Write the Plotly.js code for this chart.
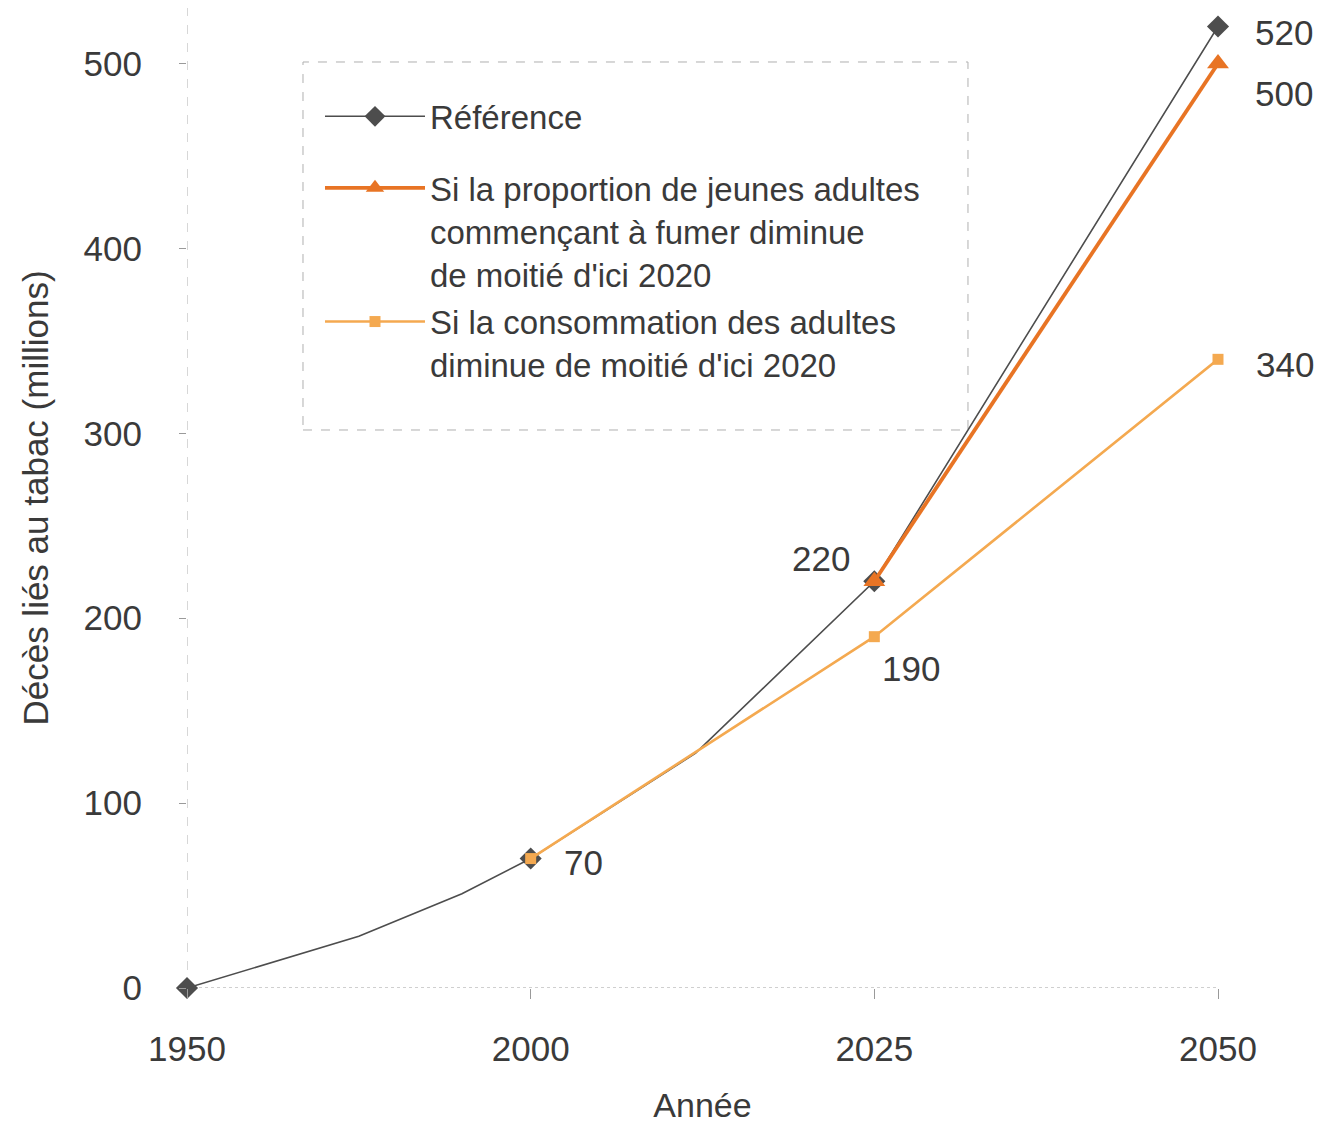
<!DOCTYPE html>
<html>
<head>
<meta charset="utf-8">
<script src="https://cdn.plot.ly/plotly-3.0.1.min.js"></script>
<style>html,body{margin:0;padding:0;background:#fff;}#chart{width:1320px;height:1125px;}</style>
</head>
<body>
<div id="chart"></div>
<script>
// Axis breakpoints (years shown as equally spaced ticks)
const tickYears = [1950, 2000, 2025, 2050];

// Référence
const refYears  = [1950, 1975, 1990, 2000, 2012, 2025, 2050];
const refValues = [0, 28, 51, 70, 127, 220, 520];
const refMarkerYears = [1950, 2000, 2025, 2050];

// Si la proportion de jeunes adultes commençant à fumer diminue de moitié d'ici 2020
const youthYears  = [2025, 2050];
const youthValues = [220, 500];

// Si la consommation des adultes diminue de moitié d'ici 2020
const adultYears  = [2000, 2025, 2050];
const adultValues = [70, 190, 340];

// Value labels
const labelYears  = [2050, 2050, 2050, 2025, 2025, 2000];
const labelValues = [520, 500, 340, 220, 190, 70];

const seriesNames = [
  'Référence',
  'Si la proportion de jeunes adultes<br>commençant à fumer diminue<br>de moitié d\'ici 2020',
  'Si la consommation des adultes<br>diminue de moitié d\'ici 2020'
];

// piecewise scale: each tick interval occupies one unit
function pos(year) {
  for (let i = 0; i < tickYears.length - 1; i++) {
    const a = tickYears[i], b = tickYears[i + 1];
    if (year <= b || i === tickYears.length - 2) return i + (year - a) / (b - a);
  }
}

const FONT = 'Liberation Sans, Arial, sans-serif';
const TXT = '#3a3a3a';
const GRAY = '#4d4d4d';
const DARK_OR = '#e87424';
const LIGHT_OR = '#f4a950';

const refMarkerIdx = refYears.map((y, i) => refMarkerYears.includes(y) ? i : -1).filter(i => i >= 0);

const traces = [
  {
    x: refYears.map(pos), y: refValues, name: seriesNames[0], legend: 'legend',
    mode: 'lines+markers', type: 'scatter', cliponaxis: false,
    line: {color: GRAY, width: 1.6},
    marker: {symbol: 'diamond', color: GRAY, size: 17},
    selectedpoints: refMarkerIdx,
    selected: {marker: {opacity: 1}},
    unselected: {marker: {opacity: 0}}
  },
  {
    x: adultYears.map(pos), y: adultValues, name: seriesNames[2], legend: 'legend2',
    legendrank: 2, legendgroup: 'c',
    mode: 'lines+markers', type: 'scatter', cliponaxis: false,
    line: {color: LIGHT_OR, width: 2.6},
    marker: {symbol: 'square', color: LIGHT_OR, size: 11}
  },
  {
    x: youthYears.map(pos), y: youthValues, name: seriesNames[1], legend: 'legend2',
    legendrank: 1, legendgroup: 'b',
    mode: 'lines+markers', type: 'scatter', cliponaxis: false,
    line: {color: DARK_OR, width: 3.8},
    marker: {symbol: 'triangle-up', color: DARK_OR, size: 19}
  }
];

const labelOffsets = [
  {xanchor: 'left', xshift: 35, yshift: -6},
  {xanchor: 'left', xshift: 35, yshift: -30},
  {xanchor: 'left', xshift: 36, yshift: -5},
  {xanchor: 'right', xshift: -22, yshift: 23},
  {xanchor: 'left', xshift: 6, yshift: -32},
  {xanchor: 'left', xshift: 31, yshift: -4}
];
const annotations = labelYears.map((yr, i) => Object.assign({
  x: pos(yr), y: labelValues[i], xref: 'x', yref: 'y',
  text: String(labelValues[i]), showarrow: false, yanchor: 'middle',
  font: {family: FONT, size: 35, color: TXT}
}, labelOffsets[i]));

const legendBase = {
  xanchor: 'left', yanchor: 'top', bgcolor: 'rgba(0,0,0,0)', borderwidth: 0,
  font: {family: FONT, size: 33, color: TXT}, itemwidth: 100, valign: 'top'
};

const layout = {
  width: 1320, height: 1125,
  paper_bgcolor: '#ffffff', plot_bgcolor: '#ffffff',
  margin: {l: 187, r: 102, t: 8, b: 137},
  font: {family: FONT, color: TXT},
  showlegend: true,
  legend: Object.assign({x: 0.129, y: 0.918}, legendBase),
  legend2: Object.assign({x: 0.129, y: 0.845, traceorder: 'grouped', tracegroupgap: 2}, legendBase),
  xaxis: {
    range: [0, 3], tickvals: tickYears.map(pos), ticktext: tickYears.map(String),
    showgrid: false, zeroline: false, showline: false,
    ticks: 'outside', ticklen: 10, tickcolor: '#9a9a9a', ticklabelstandoff: 20,
    tickfont: {family: FONT, size: 35, color: TXT},
    title: {text: 'Année', font: {family: FONT, size: 34, color: TXT}, standoff: 26}
  },
  yaxis: {
    range: [0, 530], tickvals: [0, 100, 200, 300, 400, 500],
    showgrid: false, zeroline: false, showline: false,
    ticks: 'outside', ticklen: 7, tickcolor: '#9a9a9a', ticklabelstandoff: 30,
    tickfont: {family: FONT, size: 35, color: TXT},
    title: {text: 'Décès liés au tabac (millions)', font: {family: FONT, size: 35, color: TXT}, standoff: 24}
  },
  shapes: [
    {type: 'line', xref: 'x', yref: 'paper', x0: 0, x1: 0, y0: 0, y1: 1,
     line: {color: '#b0b0b0', width: 1, dash: 'dash'}, layer: 'below'},
    {type: 'line', xref: 'x', yref: 'y', x0: 0, x1: 3, y0: 0, y1: 0,
     line: {color: '#a0a0a0', width: 1.2, dash: 'dot'}, layer: 'below'},
    {type: 'rect', xref: 'paper', yref: 'paper', x0: 0.1125, x1: 0.7575, y0: 0.5694, y1: 0.9449,
     line: {color: '#b0b0b0', width: 1, dash: 'dash'}, fillcolor: 'rgba(0,0,0,0)', layer: 'below'}
  ],
  annotations: annotations
};

Plotly.newPlot('chart', traces, layout, {displayModeBar: false, staticPlot: true});
</script>
</body>
</html>
